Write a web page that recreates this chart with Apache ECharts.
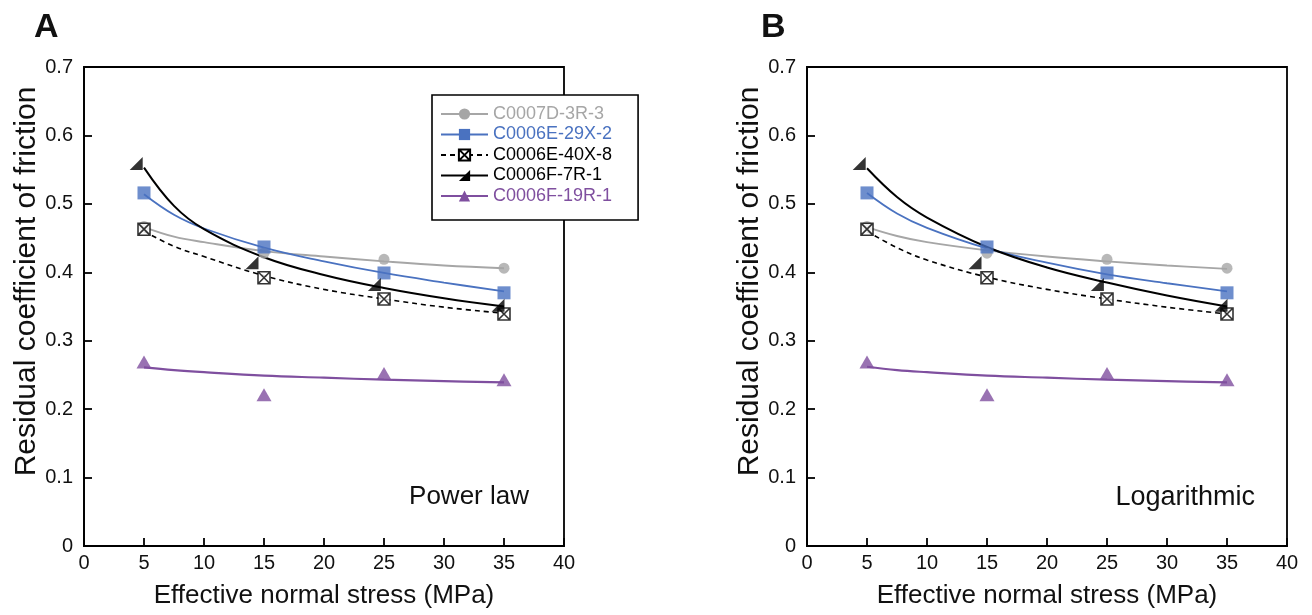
<!DOCTYPE html>
<html>
<head>
<meta charset="utf-8">
<script src="https://cdn.jsdelivr.net/npm/echarts@6/dist/echarts.min.js"></script>
<style>
  html, body { margin: 0; padding: 0; background: #fff; }
  #chart { width: 1312px; height: 615px; }
</style>
</head>
<body>
<div id="chart"></div>
<script>
// sample names (legend order)
const sampleNames = ['C0007D-3R-3', 'C0006E-29X-2', 'C0006E-40X-8', 'C0006F-7R-1', 'C0006F-19R-1'];

// measured points (effective normal stress, MPa)
const stress = [5, 15, 25, 35];
const stressC0006F7R = [4.35, 14.0, 24.2, 34.5]; // half-triangle markers sit left of the point
const muC0007D3R = [0.467, 0.428, 0.419, 0.406];
const muC0006E29X = [0.516, 0.437, 0.399, 0.370];
const muC0006E40X = [0.463, 0.392, 0.361, 0.339];
const muC0006F7R = [0.559, 0.414, 0.382, 0.352];
const muC0006F19R = [0.269, 0.221, 0.252, 0.243];

// fitted curves
const fitStress = [5, 7.5, 10, 15, 20, 25, 30, 35];
const powerC0007D3R = [0.466, 0.452, 0.444, 0.431, 0.423, 0.416, 0.410, 0.406];
const powerC0006E29X = [0.514, 0.484, 0.464, 0.436, 0.416, 0.399, 0.385, 0.372];
const powerC0006E40X = [0.460, 0.438, 0.423, 0.395, 0.375, 0.361, 0.349, 0.340];
const powerC0006F7R = [0.553, 0.497, 0.463, 0.422, 0.396, 0.377, 0.362, 0.350];
const powerC0006F19R = [0.261, 0.257, 0.254, 0.249, 0.246, 0.243, 0.241, 0.239];

const logC0007D3R = [0.466, 0.453, 0.444, 0.432, 0.423, 0.416, 0.410, 0.405];
const logC0006E29X = [0.516, 0.486, 0.465, 0.435, 0.414, 0.397, 0.384, 0.372];
const logC0006E40X = [0.460, 0.436, 0.418, 0.393, 0.375, 0.361, 0.349, 0.339];
const logC0006F7R = [0.552, 0.510, 0.480, 0.437, 0.407, 0.385, 0.366, 0.350];
const logC0006F19R = [0.262, 0.257, 0.254, 0.249, 0.246, 0.243, 0.241, 0.239];

const xTicks = [0, 5, 10, 15, 20, 25, 30, 35, 40];
const yTicks = [0, 0.1, 0.2, 0.3, 0.4, 0.5, 0.6, 0.7];

const FONT = 'Liberation Sans, Arial, sans-serif';
const GRAY = '#a6a6a6';
const BLUE = '#4a72c0';
const PURPLE = '#7f4f9f';

const crossBox = 'path://M0,0L10,0L10,10L0,10Z M0,0L10,10 M10,0L0,10';
const halfTri = 'path://M10,0L10,10L0,10Z';

const styles = [
    { symbol: 'circle', size: 11, line: { color: GRAY, width: 1.9 }, item: { color: GRAY } },
    { symbol: 'rect', size: 13, line: { color: BLUE, width: 1.8 }, item: { color: BLUE } },
    { symbol: crossBox, size: 12, line: { color: '#000', width: 1.6, type: [5, 4] },
      item: { color: '#fff', borderColor: '#000', borderWidth: 1.6 } },
    { symbol: halfTri, size: 13, line: { color: '#000', width: 2 }, item: { color: '#000' } },
    { symbol: 'triangle', size: [15, 13], line: { color: PURPLE, width: 2.2 }, item: { color: PURPLE } }
];

function pairs(xs, ys) {
    return xs.map((x, i) => [x, ys[i]]);
}

function panelSeries(idx, fits) {
    const points = [muC0007D3R, muC0006E29X, muC0006E40X, muC0006F7R, muC0006F19R];
    const out = [];
    sampleNames.forEach((name, k) => {
        const st = styles[k];
        out.push({
            name: name,
            type: 'line',
            xAxisIndex: idx,
            yAxisIndex: idx,
            data: pairs(fitStress, fits[k]),
            smooth: 0.4,
            showSymbol: false,
            symbol: st.symbol,
            symbolSize: st.size,
            itemStyle: st.item,
            lineStyle: st.line,
            silent: true,
            z: 2
        });
    });
    sampleNames.forEach((name, k) => {
        const st = styles[k];
        const xs = k === 3 ? stressC0006F7R : stress;
        out.push({
            name: name,
            type: 'scatter',
            xAxisIndex: idx,
            yAxisIndex: idx,
            data: pairs(xs, points[k]),
            symbol: st.symbol,
            symbolSize: st.size,
            itemStyle: st.item,
            silent: true,
            z: 3
        });
    });
    return out;
}

function xAxisFor(idx) {
    return {
        type: 'value', gridIndex: idx, min: 0, max: 40, interval: 5,
        name: 'Effective normal stress (MPa)', nameLocation: 'middle', nameGap: 37,
        nameTextStyle: { fontFamily: FONT, fontSize: 26, color: '#111' },
        axisLine: { lineStyle: { color: '#000', width: 1.8 } },
        axisTick: { inside: true, length: 8, lineStyle: { color: '#000', width: 1.8 } },
        axisLabel: { fontFamily: FONT, fontSize: 20, color: '#111', margin: 7,
            formatter: v => xTicks.includes(v) ? String(v) : '' },
        splitLine: { show: false }
    };
}

function yAxisFor(idx) {
    return {
        type: 'value', gridIndex: idx, min: 0, max: 0.7, interval: 0.1,
        name: 'Residual coefficient of friction', nameLocation: 'middle', nameGap: 39,
        // padding on the text's left side nudges the rotated title upward
        nameTextStyle: { fontFamily: FONT, fontSize: 30, color: '#111', padding: [0, 0, 0, 50] },
        axisLine: { lineStyle: { color: '#000', width: 1.8 } },
        axisTick: { inside: true, length: 8, lineStyle: { color: '#000', width: 1.8 } },
        axisLabel: { fontFamily: FONT, fontSize: 20, color: '#111', margin: 11,
            formatter: v => {
                const t = yTicks.find(y => Math.abs(y - v) < 1e-6);
                return t === undefined ? '' : (t === 0 ? '0' : t.toFixed(1));
            } },
        splitLine: { show: false }
    };
}

const chart = echarts.init(document.getElementById('chart'));
const legendColors = [GRAY, BLUE, '#000', '#000', PURPLE];

const option = {
    animation: false,
    backgroundColor: '#fff',
    grid: [
        { left: 84, top: 67, width: 480, height: 479, show: true, borderColor: '#000', borderWidth: 1.8, backgroundColor: 'transparent' },
        { left: 807, top: 67, width: 480, height: 479, show: true, borderColor: '#000', borderWidth: 1.8, backgroundColor: 'transparent' }
    ],
    xAxis: [xAxisFor(0), xAxisFor(1)],
    yAxis: [yAxisFor(0), yAxisFor(1)],
    legend: {
        orient: 'vertical',
        left: 432,
        top: 95,
        padding: [10, 26, 15, 8],
        itemWidth: 47,
        itemHeight: 14,
        itemGap: 2.5,
        borderColor: '#000',
        borderWidth: 1.6,
        backgroundColor: '#fff',
        selectedMode: false,
        data: sampleNames.map((n, k) => ({ name: n, textStyle: { color: legendColors[k] } })),
        textStyle: { fontFamily: FONT, fontSize: 18 }
    },
    graphic: [
        { type: 'text', left: 34, top: 11, style: { text: 'A', font: 'bold 34px ' + FONT, fill: '#111' } },
        { type: 'text', left: 761, top: 11, style: { text: 'B', font: 'bold 34px ' + FONT, fill: '#111' } },
        { type: 'text', right: 1312 - 529, top: 484, style: { text: 'Power law', font: '26px ' + FONT, fill: '#111' } },
        { type: 'text', right: 1312 - 1255, top: 484, style: { text: 'Logarithmic', font: '27px ' + FONT, fill: '#111' } }
    ],
    series: [
        ...panelSeries(0, [powerC0007D3R, powerC0006E29X, powerC0006E40X, powerC0006F7R, powerC0006F19R]),
        ...panelSeries(1, [logC0007D3R, logC0006E29X, logC0006E40X, logC0006F7R, logC0006F19R])
    ]
};

chart.setOption(option);
window.addEventListener('resize', function () {
    chart.resize();
});
</script>
</body>
</html>
